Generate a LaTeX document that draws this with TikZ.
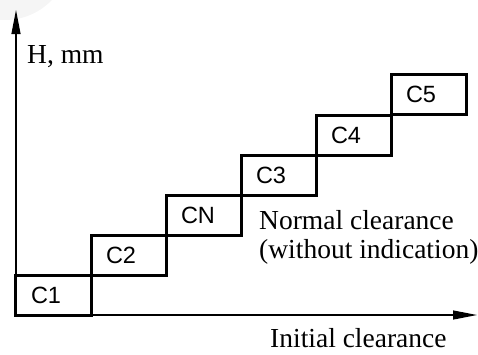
\documentclass[tikz,border=0pt]{standalone}
\usepackage{fontspec}
\setmainfont{Liberation Serif}
\setsansfont{Liberation Sans}
\usetikzlibrary{arrows.meta}

\tikzset{
  axisline/.style={line width=1.2bp, -{Triangle[length=24bp,width=9bp]}},
  clbox/.style={draw, line width=3bp, minimum width=75bp, minimum height=40bp,
    inner xsep=15bp, inner ysep=0pt, text width=45bp, align=left,
    font=\sffamily\fontsize{23.5bp}{24bp}\selectfont},
  caption/.style={anchor=base west, inner sep=0pt,
    font=\rmfamily\fontsize{27.5bp}{29bp}\selectfont},
}

\begin{document}
\begin{tikzpicture}[x=1bp, y=-1bp]
  \useasboundingbox (0,0) rectangle (478,354);

  % faint shading in the upper left corner
  \begin{scope}
    \clip (0,0) rectangle (478,354);
    \fill[gray!8] (5,-45) circle (65bp);
  \end{scope}

  % axes
  \coordinate (origin) at (16,315);
  \coordinate (ytip) at (16,10);
  \coordinate (xtip) at (477,315);
  \draw[axisline] (origin) -- (ytip);
  \draw[axisline] (origin) -- (xtip);

  % clearance classes as a staircase
  \node[clbox] (c1) at (53.5,295) {C1};
  \node[clbox] (c2) at (128.5,255) {C2};
  \node[clbox] (cn) at (203.5,215) {CN};
  \node[clbox] (c3) at (278.5,175) {C3};
  \node[clbox] (c4) at (353.5,135) {C4};
  \node[clbox] (c5) at (428.5,94.5) {C5};

  % axis titles and notes
  \node[caption] (hlabel) at (27,63) {H, mm};
  \node[caption] (normal1) at (259,229.5) {Normal clearance};
  \node[caption] (normal2) at (259,258) {(without indication)};
  \node[caption] (xlabel) at (270,347) {Initial clearance};
\end{tikzpicture}
\end{document}
